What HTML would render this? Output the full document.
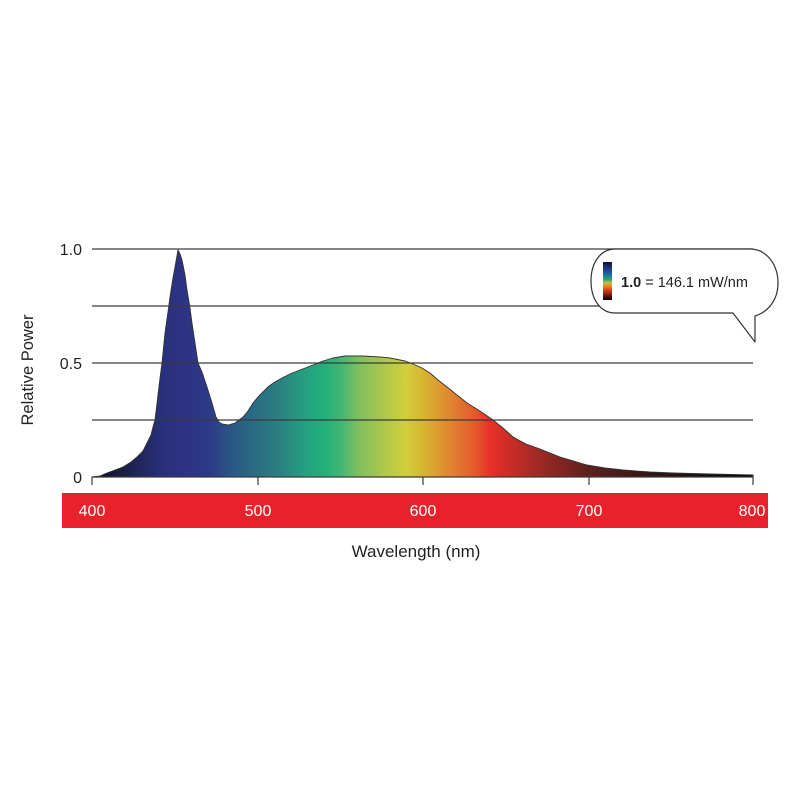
<!DOCTYPE html>
<html><head><meta charset="utf-8"><style>
html,body{margin:0;padding:0;background:#fff;}
svg{display:block;}
text{font-family:"Liberation Sans",sans-serif;}
</style></head><body>
<svg width="800" height="800" viewBox="0 0 800 800" xmlns="http://www.w3.org/2000/svg">
<defs>
<linearGradient id="spec" gradientUnits="userSpaceOnUse" x1="92" y1="0" x2="753" y2="0">
<stop offset="0" stop-color="#0c0c1c"/>
<stop offset="0.05" stop-color="#1a1f45"/>
<stop offset="0.103" stop-color="#28307a"/>
<stop offset="0.147" stop-color="#2e3385"/>
<stop offset="0.178" stop-color="#2c3a88"/>
<stop offset="0.216" stop-color="#2a5a85"/>
<stop offset="0.283" stop-color="#2a8080"/>
<stop offset="0.322" stop-color="#25a080"/>
<stop offset="0.352" stop-color="#22b07a"/>
<stop offset="0.375" stop-color="#40b575"/>
<stop offset="0.404" stop-color="#80bf60"/>
<stop offset="0.443" stop-color="#b0c84a"/>
<stop offset="0.474" stop-color="#cfcf3c"/>
<stop offset="0.499" stop-color="#d8b830"/>
<stop offset="0.546" stop-color="#e08030"/>
<stop offset="0.579" stop-color="#e55a2c"/>
<stop offset="0.602" stop-color="#e83028"/>
<stop offset="0.632" stop-color="#cc2c26"/>
<stop offset="0.673" stop-color="#a02a25"/>
<stop offset="0.749" stop-color="#602020"/>
<stop offset="0.849" stop-color="#301515"/>
<stop offset="0.92" stop-color="#1a0e0e"/>
<stop offset="1" stop-color="#000000"/>
</linearGradient>
<linearGradient id="leg" x1="0" y1="0" x2="0" y2="1">
<stop offset="0" stop-color="#101030"/>
<stop offset="0.15" stop-color="#203080"/>
<stop offset="0.3" stop-color="#2060a0"/>
<stop offset="0.45" stop-color="#20a080"/>
<stop offset="0.55" stop-color="#c0c040"/>
<stop offset="0.65" stop-color="#e08020"/>
<stop offset="0.75" stop-color="#e03020"/>
<stop offset="0.9" stop-color="#601010"/>
<stop offset="1" stop-color="#000000"/>
</linearGradient>
</defs>

<!-- spectrum area -->
<path fill="url(#spec)" stroke="#333" stroke-width="0.9" stroke-linejoin="round" d="M92,477 L100,476 L107,473 L115,470 L123,467 L131,462 L137,457 L143,451 L147,443 L151,435 L153,427 L155,420 L158,395 L160,378 L162,363 L165,333 L168,312 L170,297 L173,278 L175,267 L178,250 L180,254 L182,260 L185,275 L187,290 L190,308 L192,323 L195,343 L198,363 L202,372 L207,387 L212,403 L216,417 L219,422 L222,424 L228,425 L235,423 L243,417 L248,411 L253,403 L258,397 L263,392 L269,386 L275,382 L282,378 L290,374 L300,370 L313,365 L323,361 L333,358 L345,356 L363,356 L380,357 L390,358 L405,361 L413,364 L422,368 L430,373 L438,380 L447,387 L457,395 L467,403 L480,411 L493,420 L503,428 L513,437 L526,444 L540,449 L560,457 L587,465 L605,468 L623,470 L650,472 L673,473 L710,474 L753,475 L753,477 Z"/>

<!-- gridlines -->
<g stroke="#3a3a3a" stroke-width="1.2">
<line x1="92" y1="249" x2="753" y2="249"/>
<line x1="92" y1="306" x2="753" y2="306"/>
<line x1="92" y1="363" x2="753" y2="363"/>
<line x1="92" y1="420" x2="753" y2="420"/>
</g>

<!-- baseline and ticks -->
<g stroke="#3a3a3a" stroke-width="1.2" fill="none">
<line x1="92" y1="477" x2="753" y2="477"/>
<line x1="92" y1="477" x2="92" y2="485"/>
<line x1="258" y1="477" x2="258" y2="485"/>
<line x1="423" y1="477" x2="423" y2="485"/>
<line x1="589" y1="477" x2="589" y2="485"/>
<line x1="753" y1="475" x2="753" y2="485"/>
</g>

<!-- y labels -->
<g font-size="16" fill="#222" text-anchor="end">
<text x="82" y="255">1.0</text>
<text x="82" y="369">0.5</text>
<text x="82" y="483">0</text>
</g>
<text transform="translate(33,370) rotate(-90)" font-size="16.5" fill="#222" text-anchor="middle">Relative Power</text>

<!-- red bar -->
<rect x="62" y="493" width="706" height="35" fill="#e9212a"/>
<g font-size="16" fill="#fff" text-anchor="middle">
<text x="92" y="516">400</text>
<text x="258" y="516">500</text>
<text x="423" y="516">600</text>
<text x="589" y="516">700</text>
<text x="752" y="516">800</text>
</g>
<text x="416" y="557" font-size="17" fill="#222" text-anchor="middle">Wavelength (nm)</text>

<!-- legend bubble -->
<path fill="#fff" stroke="#333" stroke-width="1.2" stroke-linejoin="round" d="M615,249 L750,249 C766,249 778,264 778,283 C778,300 768,312 755,316 L755,342 L733,313 L615,313 C601,313 591,300 591,281 C591,262 601,249 615,249 Z"/>
<rect x="603" y="262" width="9" height="38" fill="url(#leg)"/>
<text x="621" y="287" font-size="14.5" fill="#222"><tspan font-weight="bold">1.0</tspan> = 146.1 mW/nm</text>
</svg>
</body></html>
